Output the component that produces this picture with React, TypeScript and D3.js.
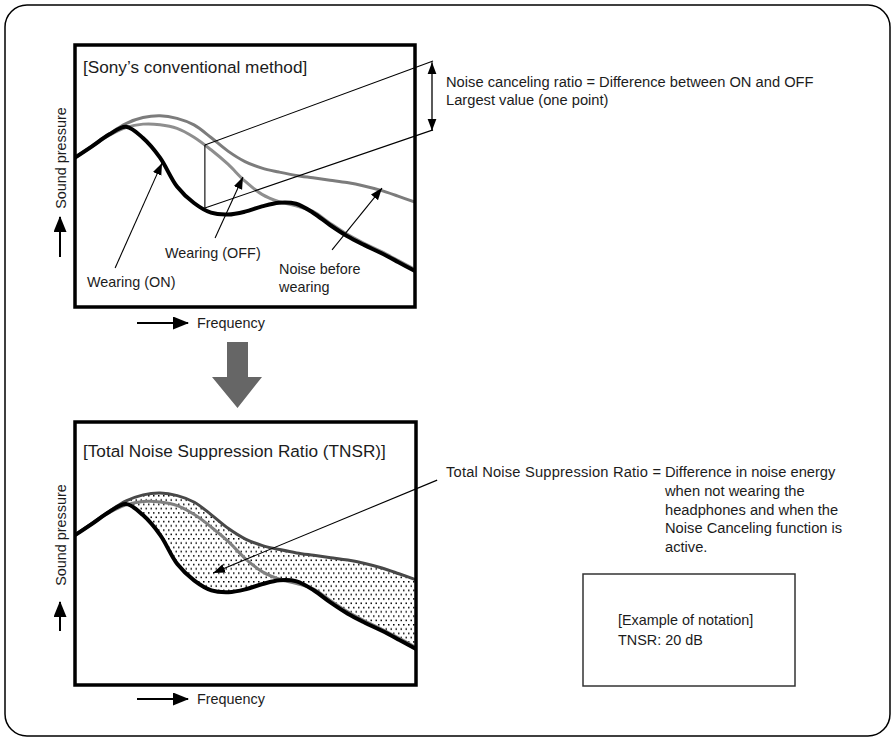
import * as d3 from "d3";

// frequency positions (0 = left edge of the plot, 100 = right edge)
const freq = [0, 5, 10, 15, 20, 25, 30, 35, 40, 45, 50, 55, 60, 65, 70, 75, 80, 85, 90, 95, 100];
// relative sound pressure (0 = bottom of the plot, 100 = top)
const noiseBefore = [57, 61.5, 66, 70, 72.3, 73, 72, 69.5, 64.7, 59.5, 55.5, 53, 51.5, 50.2, 49.3, 48.4, 47.5, 46.2, 44.5, 42.3, 40];
const wearingOff = [57, 61.3, 65.5, 68.5, 69.8, 69.6, 68.2, 64.8, 60, 54.5, 48, 43, 40.2, 38.6, 36.5, 32, 27.8, 24.3, 21.2, 17.8, 14.3];
const wearingOn = [57, 61.3, 65.8, 68.8, 64.5, 57, 46, 39.7, 36, 35.3, 36.4, 38.4, 39.8, 39.4, 36, 31.3, 27.1, 23.7, 20.6, 17.2, 13.7];

const topNote = ["Noise canceling ratio = Difference between ON and OFF", "Largest value (one point)"];
const tnsrLead = "Total Noise Suppression Ratio =";
const tnsrNote = [
  "Difference in noise energy",
  "when not wearing the",
  "headphones and when the",
  "Noise Canceling function is",
  "active.",
];
const exampleNote = ["[Example of notation]", "TNSR: 20 dB"];

const FONT = "'Liberation Sans', Arial, Helvetica, sans-serif";
const INK = "#1c1c1c";
const W = 892;
const H = 738;

type Scale = d3.ScaleLinear<number, number>;

interface PanelProps {
  id: string;
  top: number;
  bottom: number;
  left: number;
  right: number;
  title: string;
  titleY: number;
  noiseColor: string;
  offColor: string;
  dotted: boolean;
  labelY: number; // centre of the rotated "Sound pressure" label
  arrowTip: number;
  arrowEnd: number;
  freqY: number;
  children?: (x: Scale, y: Scale) => React.ReactNode;
}

function Panel(p: PanelProps) {
  const x = d3.scaleLinear().domain([0, 100]).range([p.left, p.right]);
  const y = d3.scaleLinear().domain([0, 100]).range([p.bottom, p.top]);
  const curve = d3.curveCatmullRom.alpha(0.5);

  const line = d3
    .line<number>()
    .x((_, i) => x(freq[i]))
    .y((d) => y(d))
    .curve(curve);

  const area = d3
    .area<number>()
    .x((_, i) => x(freq[i]))
    .y0((_, i) => y(wearingOn[i]))
    .y1((d) => y(d))
    .curve(curve);

  return (
    <g>
      <clipPath id={`clip-${p.id}`}>
        <rect x={p.left} y={p.top} width={p.right - p.left} height={p.bottom - p.top} />
      </clipPath>
      <rect x={p.left} y={p.top} width={p.right - p.left} height={p.bottom - p.top} fill="#fff" />
      <g clipPath={`url(#clip-${p.id})`}>
        {p.dotted && <path d={area(noiseBefore) || ""} fill="url(#dots)" />}
        <path d={line(wearingOff) || ""} fill="none" stroke={p.offColor} strokeWidth={3} />
        <path d={line(noiseBefore) || ""} fill="none" stroke={p.noiseColor} strokeWidth={3} />
        <path d={line(wearingOn) || ""} fill="none" stroke="#000" strokeWidth={4} strokeLinejoin="round" />
      </g>
      <rect
        x={p.left}
        y={p.top}
        width={p.right - p.left}
        height={p.bottom - p.top}
        fill="none"
        stroke="#000"
        strokeWidth={3.5}
      />
      <text x={p.left + 8} y={p.titleY} fontSize={17.2} fill={INK}>
        {p.title}
      </text>

      {/* y axis label */}
      <text
        x={66}
        y={p.labelY}
        fontSize={14.4}
        fill={INK}
        textAnchor="middle"
        transform={`rotate(-90, 66, ${p.labelY})`}
      >
        Sound pressure
      </text>
      <line x1={60} y1={p.arrowEnd} x2={60} y2={p.arrowTip + 2} stroke="#000" strokeWidth={2} markerEnd="url(#bigHead)" />

      {/* x axis label */}
      <line x1={137} y1={p.freqY} x2={p.left + 113} y2={p.freqY} stroke="#000" strokeWidth={2} markerEnd="url(#bigHead)" />
      <text x={197} y={p.freqY + 5} fontSize={14.4} fill={INK}>
        Frequency
      </text>

      {p.children && p.children(x, y)}
    </g>
  );
}

function Arrow({ x, y, from, to }: { x: Scale; y: Scale; from: [number, number]; to: [number, number] }) {
  return (
    <line
      x1={x(from[0])}
      y1={y(from[1])}
      x2={x(to[0])}
      y2={y(to[1])}
      stroke="#000"
      strokeWidth={1.1}
      markerEnd="url(#head)"
    />
  );
}

export default function App() {
  return (
    <div style={{ position: "absolute", left: 0, top: 0 }}>
      <svg width={W} height={H} viewBox={`0 0 ${W} ${H}`} style={{ display: "block", fontFamily: FONT }}>
        <defs>
          <marker id="head" markerUnits="userSpaceOnUse" markerWidth={13} markerHeight={10} refX={12} refY={5} orient="auto-start-reverse">
            <path d="M0,0.5 L12,5 L0,9.5 z" fill="#000" />
          </marker>
          <marker id="bigHead" markerUnits="userSpaceOnUse" markerWidth={17} markerHeight={13} refX={15} refY={6.5} orient="auto">
            <path d="M0,0 L16,6.5 L0,13 z" fill="#000" />
          </marker>
          <pattern id="dots" patternUnits="userSpaceOnUse" width={5} height={8.6}>
            <rect x={0.5} y={0.5} width={1.5} height={1.5} fill="#000" />
            <rect x={3} y={4.8} width={1.5} height={1.5} fill="#000" />
          </pattern>
        </defs>

        <rect x={0} y={0} width={W} height={H} fill="#fff" />
        <rect x={5} y={5} width={885} height={731} rx={22} ry={22} fill="none" stroke="#000" strokeWidth={1.5} />

        {/* upper panel: conventional method */}
        <Panel
          id="top"
          top={45}
          bottom={307}
          left={75}
          right={415}
          title="[Sony’s conventional method]"
          titleY={73}
          noiseColor="#7c7c7c"
          offColor="#8e8e8e"
          dotted={false}
          labelY={158}
          arrowTip={215}
          arrowEnd={257}
          freqY={323}
        >
          {(x, y) => (
            <g>
              <line x1={x(38.2)} y1={y(61.8)} x2={x(38.2)} y2={y(37.8)} stroke="#000" strokeWidth={1.1} />
              <line x1={x(38.2)} y1={y(61.8)} x2={x(105.3)} y2={y(93.9)} stroke="#000" strokeWidth={1.1} />
              <line x1={x(38.2)} y1={y(37.8)} x2={x(105.3)} y2={y(67.6)} stroke="#000" strokeWidth={1.1} />
              <line
                x1={x(105)}
                y1={y(93.4)}
                x2={x(105)}
                y2={y(67.3)}
                stroke="#000"
                strokeWidth={1.3}
                markerStart="url(#head)"
                markerEnd="url(#head)"
              />
              <Arrow x={x} y={y} from={[11.8, 14.9]} to={[25.6, 55]} />
              <Arrow x={x} y={y} from={[41.2, 26.3]} to={[49.4, 49.6]} />
              <Arrow x={x} y={y} from={[75.6, 21.8]} to={[90.3, 45.4]} />
            </g>
          )}
        </Panel>

        <g fontSize={14.4} fill={INK}>
          <text x={87} y={287}>Wearing (ON)</text>
          <text x={165} y={258}>Wearing (OFF)</text>
          <text x={279} y={274}>Noise before</text>
          <text x={279} y={292}>wearing</text>
        </g>
        <g fontSize={14.7} fill={INK}>
          {topNote.map((t, i) => (
            <text key={t} x={446} y={87 + i * 18}>
              {t}
            </text>
          ))}
        </g>

        {/* big transition arrow */}
        <path d="M227,342 L248,342 L248,377 L262,377 L237.5,408 L212,377 L227,377 Z" fill="#666" />

        {/* lower panel: TNSR */}
        <Panel
          id="bottom"
          top={422}
          bottom={685}
          left={75}
          right={416}
          title="[Total Noise Suppression Ratio (TNSR)]"
          titleY={457}
          noiseColor="#484848"
          offColor="#808080"
          dotted={true}
          labelY={535}
          arrowTip={600}
          arrowEnd={631}
          freqY={699}
        >
          {(x, y) => <Arrow x={x} y={y} from={[106.2, 77.9]} to={[40.5, 42.6]} />}
        </Panel>

        <g fontSize={14.7} fill={INK}>
          <text x={446} y={477} textLength={215} lengthAdjust="spacing">
            {tnsrLead}
          </text>
          {tnsrNote.map((t, i) => (
            <text key={t} x={665} y={477 + i * 18.8}>
              {t}
            </text>
          ))}
        </g>

        <rect x={583} y={574} width={212} height={112} fill="none" stroke="#333" strokeWidth={1.5} />
        <g fontSize={14.4} fill={INK}>
          {exampleNote.map((t, i) => (
            <text key={t} x={618} y={625 + i * 20}>
              {t}
            </text>
          ))}
        </g>
      </svg>
    </div>
  );
}
